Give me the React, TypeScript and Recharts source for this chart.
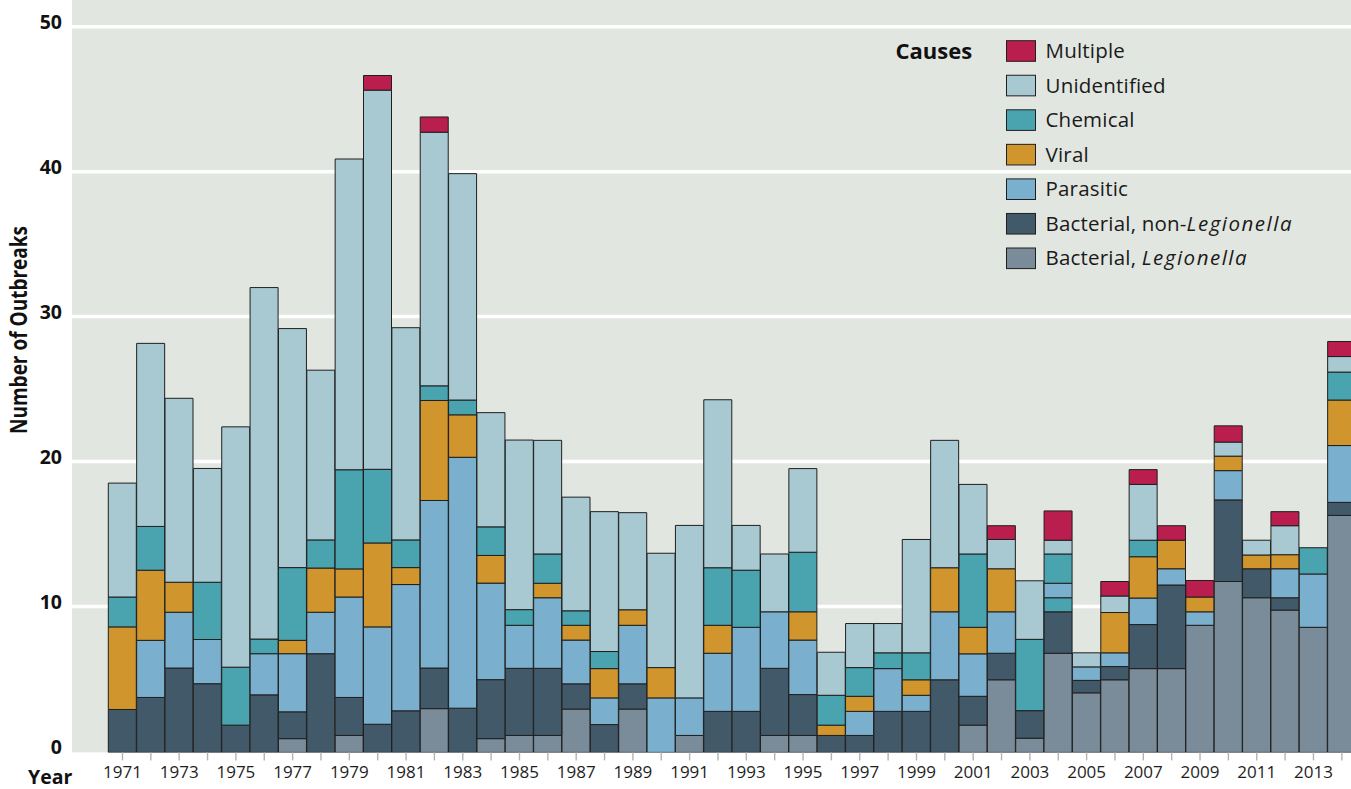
import React from 'react';
import { BarChart, Bar, XAxis, YAxis, CartesianGrid } from 'recharts';

const years = [
  '1971','1972','1973','1974','1975','1976','1977','1978','1979','1980',
  '1981','1982','1983','1984','1985','1986','1987','1988','1989','1990',
  '1991','1992','1993','1994','1995','1996','1997','1998','1999','2000',
  '2001','2002','2003','2004','2005','2006','2007','2008','2009','2010',
  '2011','2012','2013','2014',
];

const legionella = [
  0, 0, 0, 0, 0, 0, 0.95, 0, 1.17, 0,
  0, 3.02, 0, 0.95, 1.17, 1.17, 2.99, 0, 2.99, 0,
  1.17, 0, 0, 1.17, 1.17, 0, 0, 0, 0, 0,
  1.88, 5.01, 0.98, 6.84, 4.11, 5.01, 5.78, 5.78, 8.77, 11.79,
  10.67, 9.82, 8.63, 16.35,
];

const nonLegionella = [
  2.96, 3.79, 5.82, 4.74, 1.88, 3.97, 1.85, 6.81, 2.62, 1.94,
  2.87, 2.8, 3.05, 4.07, 4.63, 4.63, 1.74, 1.92, 1.74, 0,
  0, 2.83, 2.83, 4.63, 2.82, 1.17, 1.17, 2.83, 2.83, 5.01,
  1.99, 1.83, 1.9, 2.86, 0.86, 0.91, 3.04, 5.77, 0, 5.63,
  2.0, 0.85, 0, 0.9,
];

// In 2004 part of the chemical block is drawn below the parasitic block
const chemicalLower = [
  0, 0, 0, 0, 0, 0, 0, 0, 0, 0,
  0, 0, 0, 0, 0, 0, 0, 0, 0, 0,
  0, 0, 0, 0, 0, 0, 0, 0, 0, 0,
  0, 0, 0, 0.97, 0, 0, 0, 0, 0, 0,
  0, 0, 0, 0,
];

const parasitic = [
  0, 3.94, 3.85, 3.05, 0, 2.84, 4.01, 2.86, 6.93, 6.72,
  8.71, 11.56, 17.31, 6.66, 2.97, 4.87, 3.02, 1.84, 4.04, 3.76,
  2.59, 4.01, 5.8, 3.9, 3.76, 0, 1.66, 2.95, 1.11, 4.69,
  2.93, 2.86, 0, 1.0, 0.93, 0.95, 1.83, 1.12, 0.93, 2.02,
  0, 2.0, 3.68, 3.92,
];

const viral = [
  5.7, 4.84, 2.07, 0, 0, 0, 0.92, 3.05, 1.94, 5.79,
  1.17, 6.9, 2.93, 1.91, 0, 1.0, 1.02, 2.02, 1.07, 2.09,
  0, 1.93, 0, 0, 1.95, 0.71, 1.04, 0, 1.07, 3.04,
  1.83, 2.97, 0, 0, 0, 2.78, 2.85, 1.97, 1.02, 1.0,
  0.95, 0.97, 0, 3.14,
];

const chemical = [
  2.06, 3.02, 0, 3.95, 4.0, 1.01, 5.02, 1.94, 6.84, 5.08,
  1.91, 1.01, 1.02, 1.97, 1.08, 2.02, 1.0, 1.18, 0, 0,
  0, 3.97, 3.94, 0, 4.11, 2.06, 1.98, 1.09, 1.86, 0,
  5.06, 0, 4.92, 2.02, 0, 0, 1.14, 0, 0, 0,
  0, 0, 1.81, 1.93,
];

const unidentified = [
  7.86, 12.63, 12.69, 7.85, 16.58, 24.25, 16.49, 11.71, 21.44, 26.16,
  14.64, 17.5, 15.62, 7.88, 11.7, 7.84, 7.84, 9.65, 6.7, 7.89,
  11.9, 11.59, 3.09, 3.99, 5.77, 2.97, 3.04, 2.02, 7.82, 8.79,
  4.8, 2.02, 4.04, 0.95, 0.97, 1.14, 3.85, 0, 0, 0.97,
  1.02, 2.0, 0, 1.07,
];

const multiple = [
  0, 0, 0, 0, 0, 0, 0, 0, 0, 1.01,
  0, 1.05, 0, 0, 0, 0, 0, 0, 0, 0,
  0, 0, 0, 0, 0, 0, 0, 0, 0, 0,
  0, 0.95, 0, 2.02, 0, 1.0, 1.02, 1.0, 1.14, 1.12,
  0, 0.97, 0, 1.04,
];

const yTicks = [0, 10, 20, 30, 40, 50];
const gridValues = [10, 20, 30, 40, 50];

const C = {
  multiple: '#b91e4f',
  unidentified: '#a8c9d1',
  chemical: '#4aa4af',
  viral: '#d0952c',
  parasitic: '#7aafcd',
  nonLegionella: '#425969',
  legionella: '#7a8c9a',
};

const data = years.map((year, i) => ({
  year,
  legionella: legionella[i],
  nonLegionella: nonLegionella[i],
  chemicalLower: chemicalLower[i],
  parasitic: parasitic[i],
  viral: viral[i],
  chemical: chemical[i],
  unidentified: unidentified[i],
  multiple: multiple[i],
}));

const stackOrder = [
  { key: 'legionella', color: C.legionella },
  { key: 'nonLegionella', color: C.nonLegionella },
  { key: 'chemicalLower', color: C.chemical },
  { key: 'parasitic', color: C.parasitic },
  { key: 'viral', color: C.viral },
  { key: 'chemical', color: C.chemical },
  { key: 'unidentified', color: C.unidentified },
  { key: 'multiple', color: C.multiple },
];

const legendItems: { label: string; italic?: string; color: string }[] = [
  { label: 'Multiple', color: C.multiple },
  { label: 'Unidentified', color: C.unidentified },
  { label: 'Chemical', color: C.chemical },
  { label: 'Viral', color: C.viral },
  { label: 'Parasitic', color: C.parasitic },
  { label: 'Bacterial, non-', italic: 'Legionella', color: C.nonLegionella },
  { label: 'Bacterial, ', italic: 'Legionella', color: C.legionella },
];

const FONT = "'Open Sans', 'Noto Sans', sans-serif";

const gridLine = (props: any) => {
  const bottom = (props.y ?? 0) + (props.height ?? 0);
  if (props.height && Math.abs(props.y1 - bottom) < 1) {
    return <g key={props.key ?? props.index} />;
  }
  return (
    <g key={props.key ?? props.index}>
      <line x1={props.x1} x2={props.x2} y1={props.y1 - 1} y2={props.y1 - 1} stroke="#ffffff" strokeWidth={3.5} />
    </g>
  );
};

const YTick = (p: any) => (
  <text
    x={p.x}
    y={p.y + 1.5}
    textAnchor="end"
    fontFamily={FONT}
    fontWeight={700}
    fontSize={19.5}
    fill="#111"
  >
    {p.payload.value}
  </text>
);

const YLabel = () => (
  <text
    x={27}
    y={330}
    transform="rotate(-90 27 330)"
    textAnchor="middle"
    textLength={208}
    lengthAdjust="spacingAndGlyphs"
    fontFamily={FONT}
    fontWeight={700}
    fontSize={23}
    fill="#111"
  >
    Number of Outbreaks
  </text>
);

const XLabel = () => (
  <text x={28} y={784} fontFamily={FONT} fontWeight={700} fontSize={19.5} fill="#111">
    Year
  </text>
);

export default function App() {
  return (
    <div
      style={{
        position: 'absolute',
        left: 0,
        top: 0,
        width: 1351,
        height: 789,
        overflow: 'hidden',
        background: '#ffffff',
      }}
    >
      <BarChart
        width={1356}
        height={789}
        data={data}
        margin={{ top: 0, right: 0, bottom: 0, left: 0 }}
        barCategoryGap={0}
        barGap={0}
      >
        <CartesianGrid
          vertical={false}
          fill="#e2e6e0"
          fillOpacity={1}
          horizontalValues={gridValues}
          horizontal={gridLine}
        />
        <XAxis
          dataKey="year"
          type="category"
          height={36.6}
          padding={{ left: 36.3, right: 0 }}
          interval={0}
          axisLine={false}
          tickSize={8}
          tickMargin={6}
          tickLine={{ stroke: '#b3b3b3', strokeWidth: 1.4 }}
          tick={{ fill: '#1e1e1e', fontSize: 17, fontFamily: FONT }}
          tickFormatter={(v: string) => (Number(v) % 2 === 1 ? v : '')}
          label={XLabel}
        />
        <YAxis
          type="number"
          width={72}
          domain={[0, 51.91]}
          ticks={yTicks}
          allowDataOverflow
          axisLine={false}
          tickLine={false}
          tickSize={0}
          tickMargin={10}
          tick={YTick}
          label={YLabel}
        />
        {stackOrder.map((s) => (
          <Bar
            key={s.key}
            dataKey={s.key}
            stackId="a"
            fill={s.color}
            stroke="#1f1f1f"
            strokeWidth={1}
            isAnimationActive={false}
          />
        ))}
      </BarChart>
      <svg
        width={1351}
        height={789}
        style={{ position: 'absolute', left: 0, top: 0, pointerEvents: 'none' }}
      >
        <text x={895.5} y={59} fontFamily={FONT} fontWeight={700} fontSize={22} fill="#111">
          Causes
        </text>
        {legendItems.map((it, i) => {
          const top = 40.7 + i * 34.55;
          return (
            <g key={it.label + i}>
              <rect x={1006.5} y={top} width={29} height={20.6} fill={it.color} stroke="#1f1f1f" strokeWidth={1} />
              <text x={1045.5} y={top + 17.4} fontFamily={FONT} fontSize={20.5} fill="#1a1a1a" letterSpacing={0.2}>
                {it.label}
                {it.italic ? (
                  <tspan fontStyle="italic" letterSpacing={1.5}>
                    {it.italic}
                  </tspan>
                ) : null}
              </text>
            </g>
          );
        })}
      </svg>
    </div>
  );
}
